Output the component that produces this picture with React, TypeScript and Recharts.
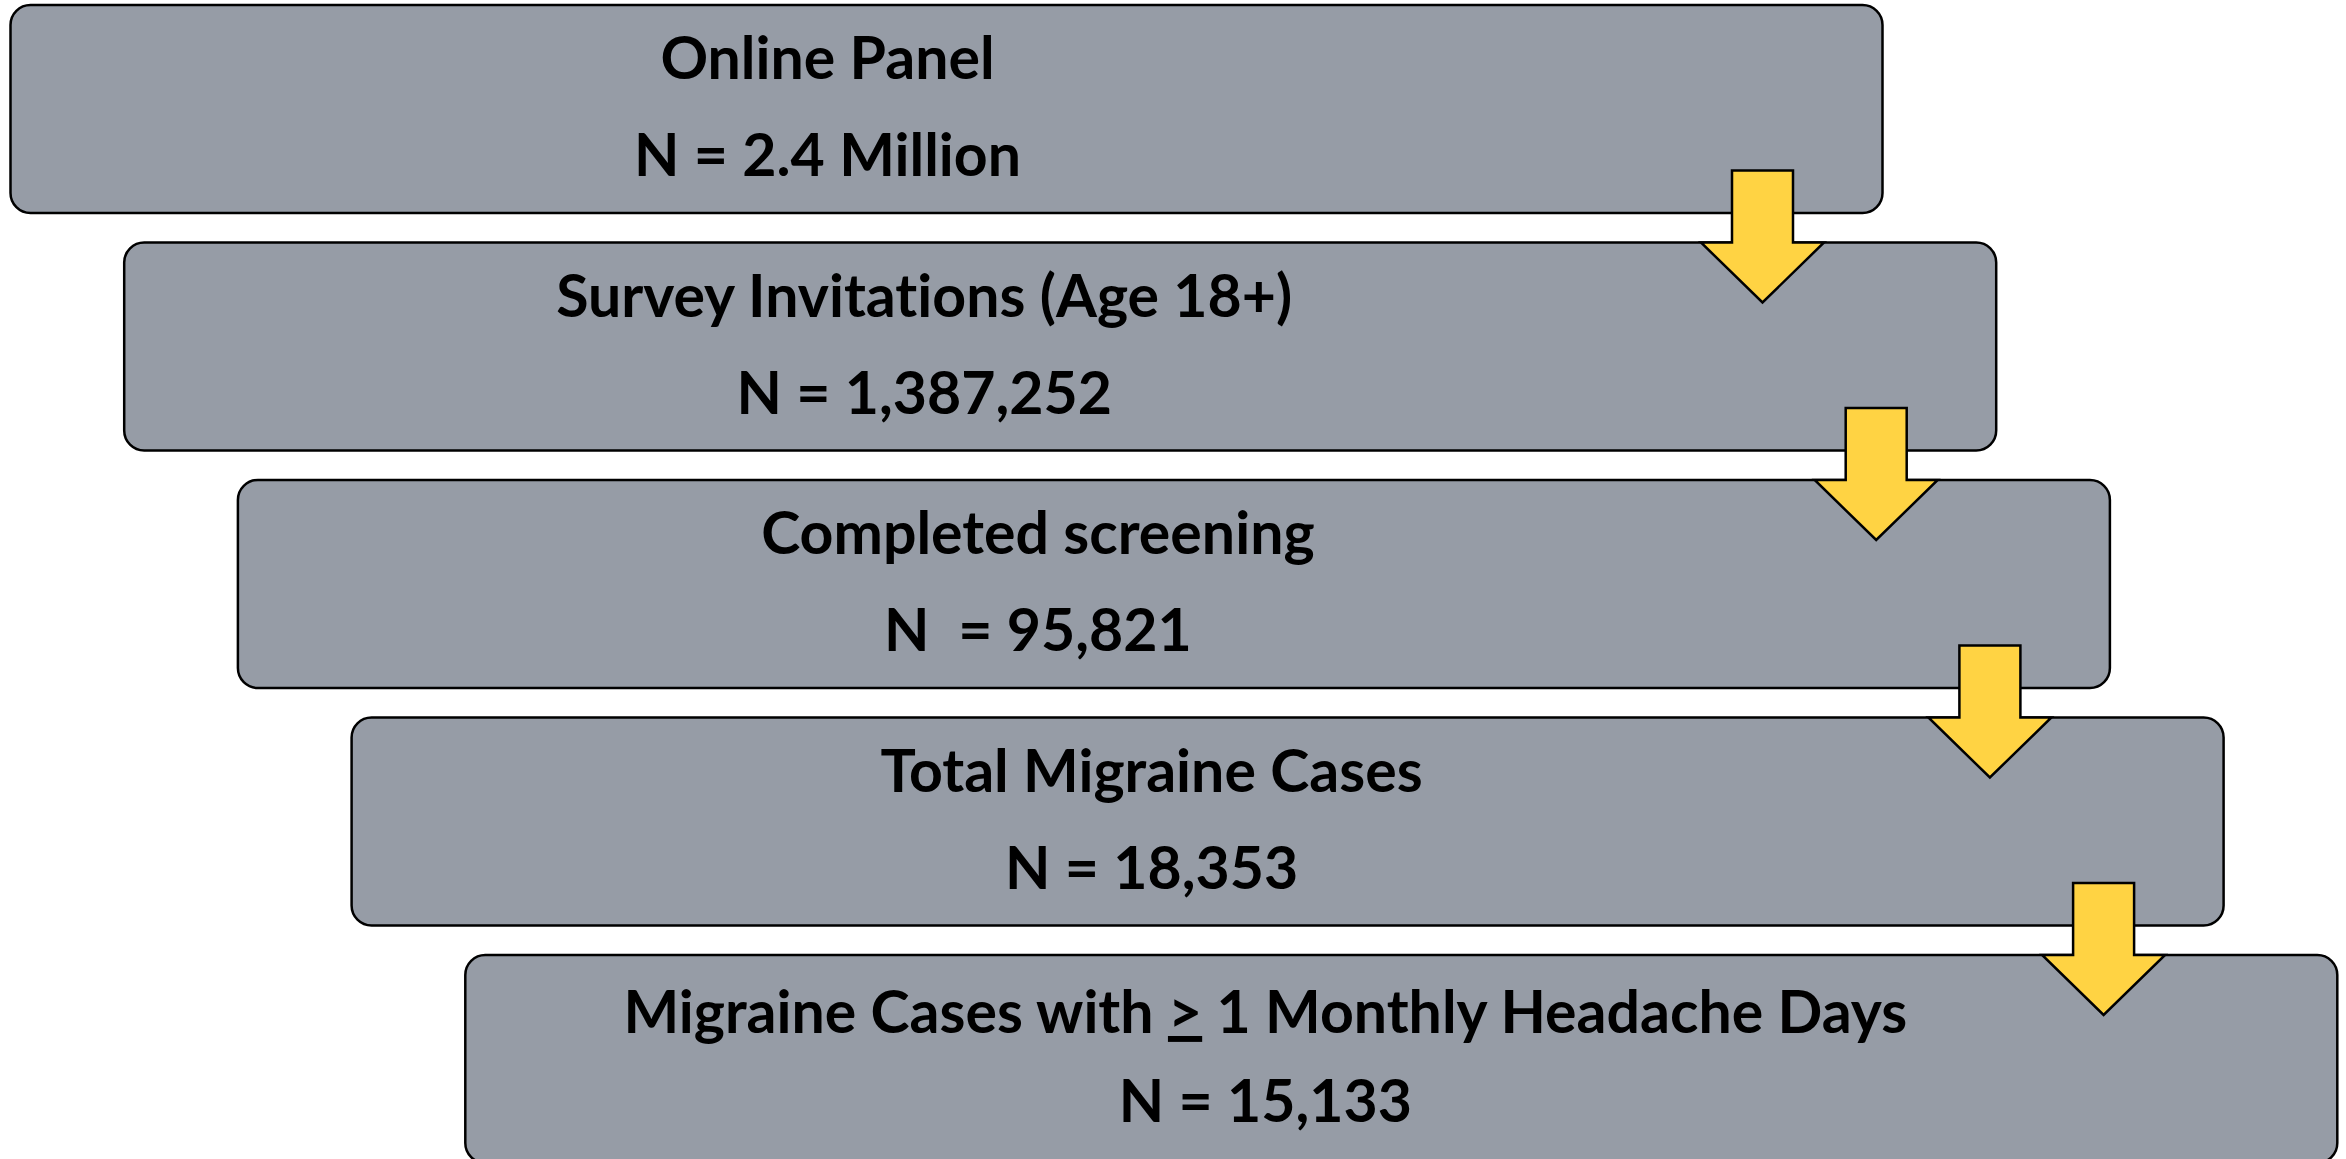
import { Bar, ComposedChart, XAxis, YAxis } from 'recharts';

// flow stages, top to bottom
const stageTitles = [
  'Online Panel',
  'Survey Invitations (Age 18+)',
  'Completed screening',
  'Total Migraine Cases',
  'Migraine Cases with > 1 Monthly Headache Days',
];

const stageCounts = [
  'N = 2.4 Million',
  'N = 1,387,252',
  'N  = 95,821',
  'N = 18,353',
  'N = 15,133',
];

// layout (px at 1:1 scale on the x axis)
const CHART_W = 2346;
const BAND = 237.5;
const BOX_H = 208;
const BOX_W = 1872;
const FIRST_LEFT = 10.5;
const STEP = 113.7;
const TEXT_CENTER = 800;
const TEXT_NUDGE = [17, 0, 0, 0, 0];
const TITLE_DY = [74, 74, 74, 74, 78];
const COUNT_DY = [171, 171, 171, 171, 167];
const ARROW_INSET = 120;
const FONT_SIZE = 59;

const BOX_FILL = '#969ca6';
const ARROW_FILL = '#ffd343';

const rows = stageTitles.map((title, index) => {
  const left = FIRST_LEFT + index * STEP;
  return { stage: title, count: stageCounts[index], index, span: [left, left + BOX_W] };
});

const textStyle = {
  whiteSpace: 'pre' as const,
  fontVariantLigatures: 'none' as const,
  fontFeatureSettings: '"liga" 0, "clig" 0',
};

function renderTitle(title: string) {
  const parts = title.split('>');
  if (parts.length === 1) return title;
  return (
    <>
      {parts[0]}
      <tspan style={{ textDecoration: 'underline' }}>{'>'}</tspan>
      {parts[1]}
    </>
  );
}

function StageBox(props: any) {
  const { x, y, width, height, payload } = props;
  const i = payload.index;
  const k = width / (payload.span[1] - payload.span[0]);
  const cx = x + (TEXT_CENTER + TEXT_NUDGE[i]) * k;
  const ax = x + (BOX_W - STEP - ARROW_INSET) * k;
  const arrow =
    i > 0
      ? [
          [ax - 30.5, y - 72],
          [ax + 30.5, y - 72],
          [ax + 30.5, y],
          [ax + 61.5, y],
          [ax, y + 60],
          [ax - 61.5, y],
          [ax - 30.5, y],
        ]
          .map((p) => p.join(','))
          .join(' ')
      : null;

  return (
    <g>
      <rect x={x} y={y} width={width} height={height} rx={20} ry={20} fill={BOX_FILL} stroke="#000" strokeWidth={2.5} />
      {arrow && <polygon points={arrow} fill={ARROW_FILL} stroke="#000" strokeWidth={2.5} strokeLinejoin="miter" />}
      <text
        x={cx}
        y={y + TITLE_DY[i]}
        textAnchor="middle"
        fontFamily="Lato, 'Open Sans', sans-serif"
        fontWeight={700}
        fontSize={FONT_SIZE}
        fill="#000"
        style={textStyle}
      >
        {renderTitle(payload.stage)}
      </text>
      <text
        x={cx}
        y={y + COUNT_DY[i]}
        textAnchor="middle"
        fontFamily="Lato, 'Open Sans', sans-serif"
        fontWeight={700}
        fontSize={FONT_SIZE}
        fill="#000"
        style={textStyle}
      >
        {payload.count}
      </text>
    </g>
  );
}

export default function App() {
  return (
    <div style={{ width: CHART_W, height: 1159, overflow: 'hidden', background: '#fff' }}>
      <style>{'body{margin:0;overflow:hidden}'}</style>
      <div style={{ marginTop: -10 }}>
        <ComposedChart
          layout="vertical"
          width={CHART_W}
          height={BAND * stageTitles.length}
          data={rows}
          margin={{ top: 0, right: 0, bottom: 0, left: 0 }}
        >
          <XAxis type="number" domain={[0, CHART_W]} hide />
          <YAxis type="category" dataKey="stage" hide />
          <Bar dataKey="span" barSize={BOX_H} isAnimationActive={false} shape={<StageBox />} />
        </ComposedChart>
      </div>
    </div>
  );
}
